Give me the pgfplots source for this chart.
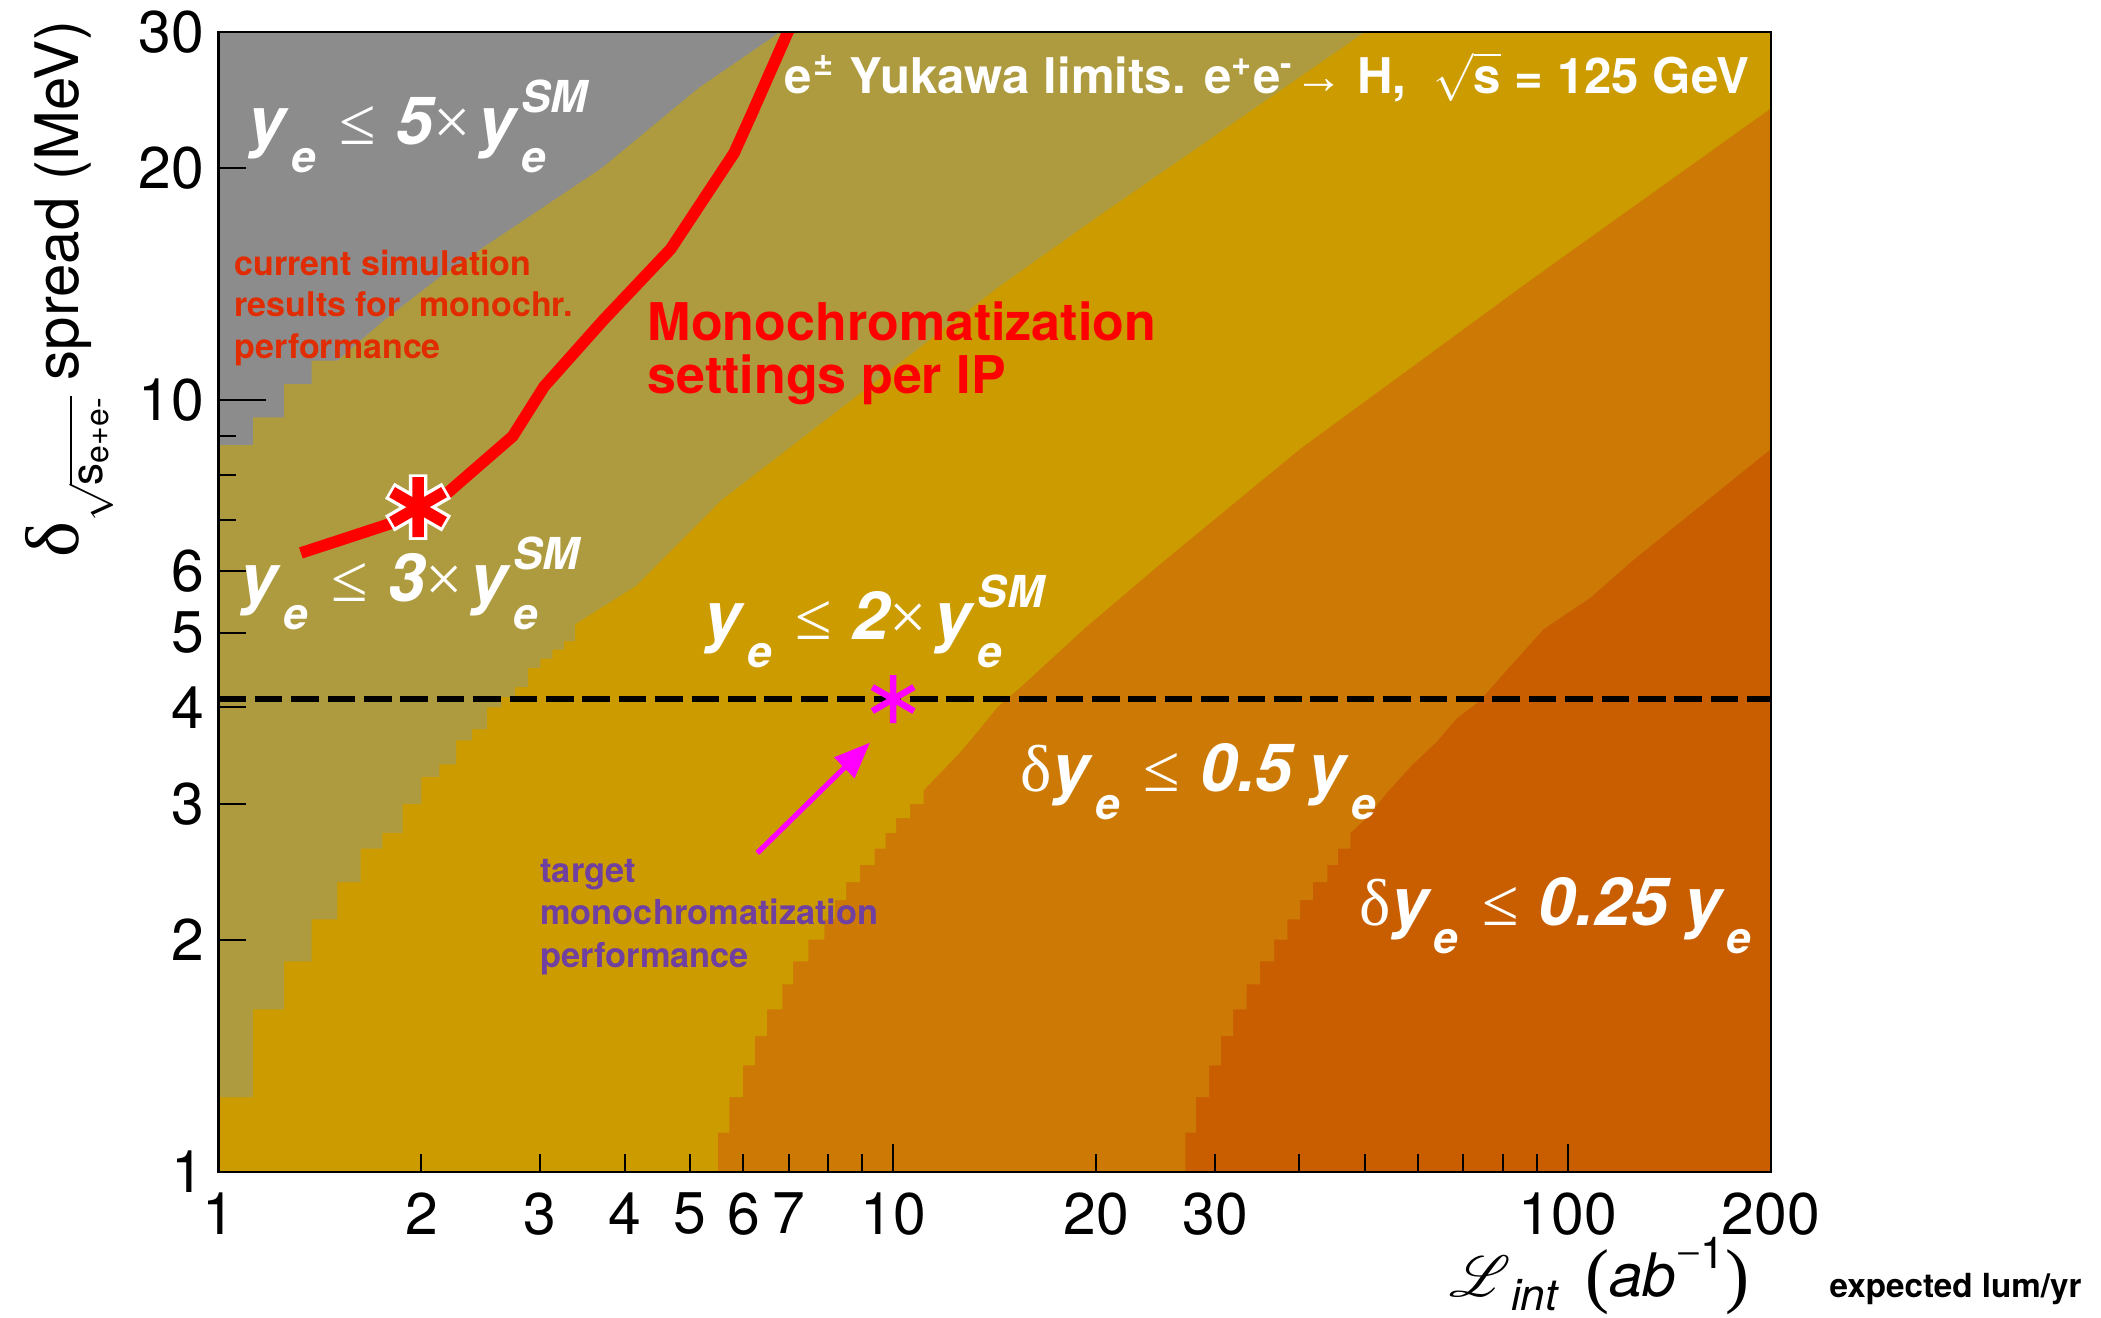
\documentclass[border=0pt]{standalone}
\usepackage{fontspec}
\setmainfont{TeX Gyre Heros}
\newfontfamily\symf{Liberation Serif}
\usepackage{mathrsfs}
\usepackage{pgfplots}
\pgfplotsset{compat=1.18}
\usetikzlibrary{arrows.meta}

\definecolor{cgrey}{HTML}{8C8C8C}
\definecolor{colive}{HTML}{AF9B3F}
\definecolor{cgold}{HTML}{CB9B00}
\definecolor{corange}{HTML}{CC7A05}
\definecolor{cdark}{HTML}{C85E00}
\definecolor{cred}{HTML}{E02C00}
\definecolor{cpurple}{HTML}{7040A0}
\definecolor{cmag}{RGB}{255,0,255}
\definecolor{cline}{RGB}{255,0,0}

\newcommand{\yy}{{\bfseries\itshape y}}
\newcommand{\se}{\hspace{1.5pt}\raisebox{-7pt}{\fontsize{11}{11}\selectfont\bfseries\itshape e}}
\newcommand{\sesm}{\hspace{1.5pt}\rlap{\raisebox{-7pt}{\fontsize{11}{11}\selectfont\bfseries\itshape e}}\raisebox{8pt}{\fontsize{11}{11}\selectfont\bfseries\itshape SM}}
\newcommand{\leqs}{{\symf\mdseries\upshape ≤}}
\newcommand{\tims}{{\symf\mdseries\upshape ×}}
\newcommand{\bigf}{\fontsize{16.6}{20}\selectfont}

\begin{document}
\begin{tikzpicture}
\path[use as bounding box] (0,0) rectangle (525.25pt,329.5pt);
\begin{axis}[
  at={(54.6pt,36.5pt)}, anchor=south west,
  width=388.15pt, height=285pt, scale only axis,
  xmode=log, ymode=log,
  xmin=1, xmax=200, ymin=1, ymax=30,
  axis on top, clip mode=individual,
  axis line style={line width=0.6pt},
  tick align=inside, xtick pos=left, ytick pos=left,
  major tick length=7pt, minor tick length=4.5pt,
  tick style={black, line width=0.5pt},
  tick label style={font=\fontsize{14.7}{17}\selectfont},
  xticklabel style={yshift=-1.6pt},
  xtick={1,10,100}, xticklabels={\mbox{1},\mbox{10},\mbox{100}},
  minor xtick={8,9,40,50,60,70,80,90},
  extra x ticks={2,3,4,5,6,7,20,30,200},
  extra x tick labels={\mbox{2},\mbox{3},\mbox{4},\mbox{5},\mbox{6},\mbox{7},\mbox{20},\mbox{30},\mbox{200}},
  extra x tick style={major tick length=4.5pt},
  ytick={2,3,4,5,6,20,30}, yticklabels={\mbox{2},\mbox{3},\mbox{4},\mbox{5},\mbox{6},\mbox{20},\mbox{30}},
  minor ytick={7,8,9},
  extra y ticks={1,10}, extra y tick labels={\mbox{1},\mbox{10}},
  extra y tick style={major tick length=12pt},
]
% background: darkest region
\addplot[draw=none, fill=cdark, mark=none] coordinates {(1,1) (200,1) (200,30) (1,30)};
% orange region
\addplot[draw=none, fill=corange, mark=none] coordinates {
(1,1) (27.1,1) (27.1,1.125) (28.1,1.125) (28.1,1.25) (29.4,1.25) (29.4,1.375) (30.6,1.375) (30.6,1.5)
(31.9,1.5) (31.9,1.625) (33.4,1.625) (33.4,1.75) (35.0,1.75) (35.0,1.875) (36.7,1.875) (36.7,2.0)
(38.4,2.0) (38.4,2.125) (40.1,2.125) (40.1,2.25) (41.9,2.25) (41.9,2.375) (44.0,2.375) (44.0,2.5)
(45.6,2.5) (45.6,2.625) (47.6,2.625) (47.6,2.75) (50.3,2.875) (53.9,3.10) (58.6,3.36) (63.9,3.61)
(68.4,3.87) (74.0,4.08) (81.9,4.51) (92.0,5.05) (108,5.55) (125,6.21) (200,8.65) (200,30) (1,30)};
% gold region
\addplot[draw=none, fill=cgold, mark=none] coordinates {
(1,1) (5.5,1) (5.5,1.125) (5.72,1.125) (5.72,1.25) (5.99,1.25) (5.99,1.375) (6.24,1.375) (6.24,1.5)
(6.5,1.5) (6.5,1.625) (6.85,1.625) (6.85,1.75) (7.11,1.75) (7.11,1.875) (7.49,1.875) (7.49,2.0)
(7.91,2.0) (7.91,2.125) (8.2,2.125) (8.2,2.25) (8.52,2.25) (8.52,2.375) (8.93,2.375) (8.93,2.5)
(9.39,2.5) (9.39,2.625) (9.75,2.625) (9.75,2.75) (10.1,2.75) (10.1,2.875) (10.6,2.875) (10.6,3.0)
(11.1,3.0) (11.1,3.125) (12.5,3.48) (13.4,3.74) (14.3,4.01) (15.5,4.26) (19.3,5.08) (25.3,6.21)
(40.1,8.65) (88.9,14.4) (200,23.9) (200,30) (1,30)};
% olive region
\addplot[draw=none, fill=colive, mark=none] coordinates {
(1,1.25) (1.125,1.25) (1.125,1.625) (1.25,1.625) (1.25,1.875) (1.375,1.875) (1.375,2.125) (1.5,2.125)
(1.5,2.375) (1.625,2.375) (1.625,2.625) (1.75,2.625) (1.75,2.75) (1.875,2.75) (1.875,3.0) (2.0,3.0)
(2.0,3.25) (2.125,3.25) (2.125,3.375) (2.25,3.375) (2.25,3.625) (2.375,3.625) (2.375,3.75) (2.5,3.75)
(2.5,4.0) (2.625,4.0) (2.625,4.125) (2.75,4.125) (2.75,4.25) (2.875,4.25) (2.875,4.5) (3.0,4.5)
(3.0,4.625) (3.125,4.625) (3.125,4.75) (3.25,4.75) (3.25,4.875) (3.375,4.875) (3.375,5.125)
(4.16,5.75) (5.57,7.43) (14.4,14.07) (20.3,17.4) (50,30) (1,30)};
% grey region
\addplot[draw=none, fill=cgrey, mark=none] coordinates {
(1,8.75) (1.125,8.75) (1.125,9.5) (1.25,9.5) (1.25,10.5) (1.375,10.5) (1.375,11.25) (1.5,11.25)
(1.76,12.7) (2.12,14.4) (2.5,15.9) (3.7,20.0) (5.15,25.4) (6.8,30) (1,30)};
% dashed target line
\addplot[black, line width=1.4pt, dash pattern=on 6.9pt off 2.2pt, mark=none] coordinates {(1,4.1) (200,4.1)};
% current simulation curve
\addplot[cline, line width=2.9pt, mark=none] coordinates {
(1.325,6.34) (1.79,6.91) (1.977,7.27) (2.18,7.57) (2.73,8.98) (3.04,10.42) (3.72,12.7) (4.68,15.7)
(5.81,20.9) (6.16,23.4) (6.97,29.9) (7.05,30.5)};
\addplot[only marks, mark=asterisk, mark size=8.2pt, mark options={white, line width=4.6pt}] coordinates {(1.977,7.27)};
\addplot[only marks, mark=asterisk, mark size=7.5pt, mark options={cline, line width=2.9pt}] coordinates {(1.977,7.27)};
% target arrow and star
\addplot[cmag, line width=1.3pt, mark=none, -{Triangle[length=9pt,width=7pt]}] coordinates {(6.29,2.59) (9.24,3.60)};
\addplot[only marks, mark=asterisk, mark size=6pt, mark options={cmag, line width=1.6pt}] coordinates {(10,4.1)};

% texts
\node[anchor=base east, text=white, inner sep=0pt] at (rel axis cs:0.9865,0.9463)
  {\fontsize{12.3}{15}\selectfont\bfseries e\hspace{0.6pt}\textsuperscript{±} Yukawa limits. e\textsuperscript{+}e\textsuperscript{-}{\symf\mdseries →} H,\ \ $\sqrt{\mbox{\bfseries s}}$ = 125 GeV};
\node[anchor=base west, text=white, inner sep=0pt] at (rel axis cs:0.0188,0.9009)
  {\bigf\yy\se\hspace{6pt}\leqs\hspace{5pt}{\bfseries\itshape 5}\tims\hspace{2pt}\yy\sesm};
\node[anchor=base west, text=white, inner sep=0pt] at (rel axis cs:0.0137,0.5004)
  {\bigf\yy\se\hspace{6pt}\leqs\hspace{5pt}{\bfseries\itshape 3}\tims\hspace{2pt}\yy\sesm};
\node[anchor=base west, text=white, inner sep=0pt] at (rel axis cs:0.3126,0.4675)
  {\bigf\yy\se\hspace{6pt}\leqs\hspace{5pt}{\bfseries\itshape 2}\tims\hspace{2pt}\yy\sesm};
\node[anchor=base west, text=white, inner sep=0pt] at (rel axis cs:0.5164,0.334)
  {\bigf{\symf\mdseries\upshape δ}\yy\se\hspace{6pt}\leqs\hspace{5pt}{\bfseries\itshape 0.5}\hspace{4pt}\yy\se};
\node[anchor=base west, text=white, inner sep=0pt] at (rel axis cs:0.7346,0.216)
  {\bigf{\symf\mdseries\upshape δ}\yy\se\hspace{6pt}\leqs\hspace{5pt}{\bfseries\itshape 0.25}\hspace{4pt}\yy\se};

\node[anchor=base west, text=cred, inner sep=0pt, font=\fontsize{8.5}{10}\selectfont\bfseries] at (rel axis cs:0.0099,0.7868) {current simulation};
\node[anchor=base west, text=cred, inner sep=0pt, font=\fontsize{8.5}{10}\selectfont\bfseries] at (rel axis cs:0.0099,0.7503) {results for\ \ monochr.};
\node[anchor=base west, text=cred, inner sep=0pt, font=\fontsize{8.5}{10}\selectfont\bfseries] at (rel axis cs:0.0099,0.7137) {performance};

\node[anchor=base west, text=cline, inner sep=0pt, font=\fontsize{13}{15}\selectfont\bfseries] at (rel axis cs:0.276,0.7298) {Monochromatization};
\node[anchor=base west, text=cline, inner sep=0pt, font=\fontsize{13}{15}\selectfont\bfseries] at (rel axis cs:0.276,0.683) {settings per IP};

\node[anchor=base west, text=cpurple, inner sep=0pt, font=\fontsize{8.6}{10}\selectfont\bfseries] at (rel axis cs:0.2068,0.2541) {target};
\node[anchor=base west, text=cpurple, inner sep=0pt, font=\fontsize{8.6}{10}\selectfont\bfseries] at (rel axis cs:0.2068,0.217) {monochromatization};
\node[anchor=base west, text=cpurple, inner sep=0pt, font=\fontsize{8.6}{10}\selectfont\bfseries] at (rel axis cs:0.2068,0.1796) {performance};

% axis labels
\node[anchor=base west, inner sep=0pt] at (rel axis cs:0.7925,-0.1095)
  {\fontsize{15}{18}\selectfont$\mathscr{L}$\raisebox{-3.4pt}{\fontsize{11}{11}\selectfont\itshape int}\hspace{7pt}\raisebox{-0.6pt}{\symf\fontsize{18}{18}\selectfont(}{\itshape ab}\raisebox{7pt}{\fontsize{11}{11}\selectfont{\symf −}1}\raisebox{-0.6pt}{\symf\fontsize{18}{18}\selectfont)}};
\node[anchor=base west, inner sep=0pt, font=\fontsize{8.3}{10}\selectfont\bfseries] at (rel axis cs:1.0372,-0.1105) {expected lum/yr};
\node[rotate=90, anchor=base east, inner sep=0pt] at (rel axis cs:-0.0904,1.0105)
  {\fontsize{15}{18}\selectfont{\symf\fontsize{19}{19}\selectfont δ}\raisebox{-6pt}{\fontsize{11}{13}\selectfont$\sqrt{\mbox{s}_{\mbox{\fontsize{8}{8}\selectfont e+e-}}}$}\hspace{4pt}spread (MeV)};
\end{axis}
\end{tikzpicture}
\end{document}
